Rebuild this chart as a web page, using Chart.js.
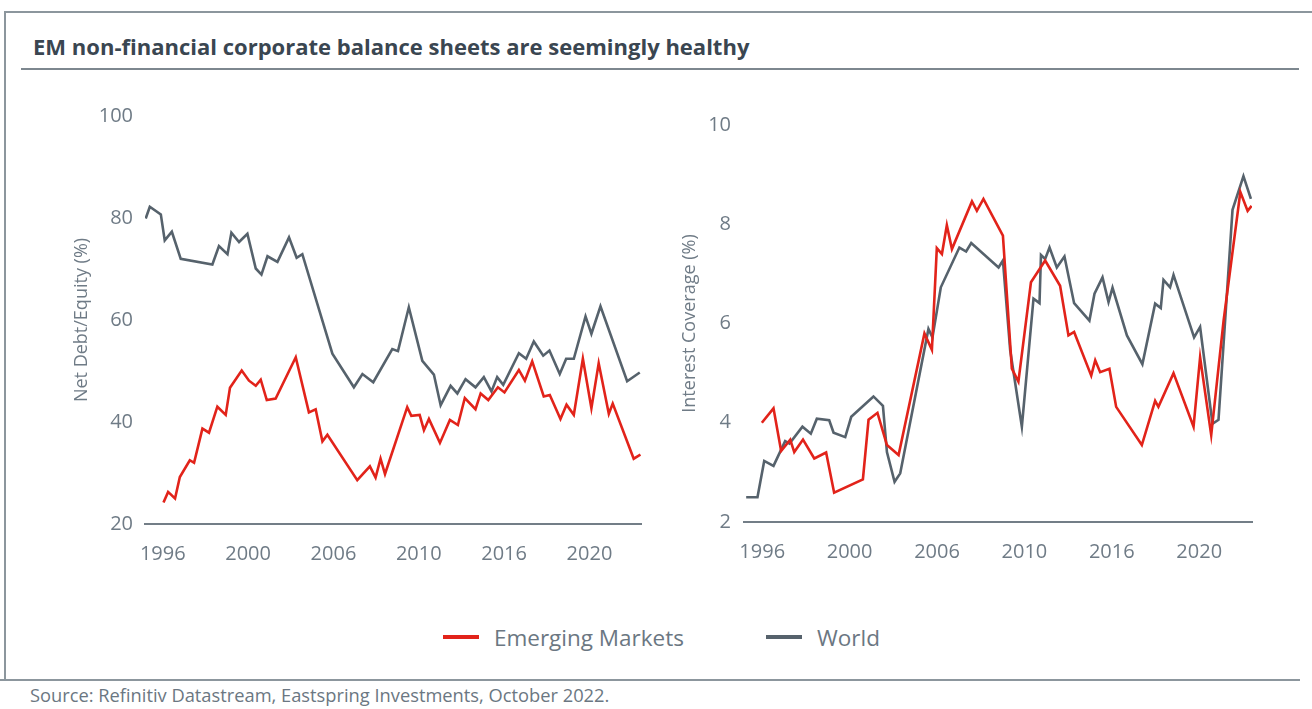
<!DOCTYPE html>
<html><head><meta charset="utf-8">
<script src="https://cdn.jsdelivr.net/npm/chart.js@4/dist/chart.umd.min.js"></script>
<style>
html,body{margin:0;padding:0;background:#fff;width:1312px;height:709px;overflow:hidden;font-family:"Open Sans",sans-serif;}
.abs{position:absolute;}
#frameTop{left:5px;top:11px;width:1307px;height:0;border-top:2px solid #8c969d;}
#frameLeft{left:4px;top:11px;width:0;height:669px;border-left:2px solid #8c969d;}
#title{left:33px;top:31px;font-size:20px;font-weight:bold;color:#3a4651;white-space:nowrap;}
#titleRule{left:21px;top:68px;width:1278px;height:0;border-top:2px solid #7d878f;}
#bottomRule{left:0;top:679px;width:1300px;height:0;border-top:2px solid #8c969d;}
#source{left:30px;top:682px;font-size:15px;color:#6b7782;white-space:nowrap;}
.lg{top:622px;height:30px;display:flex;align-items:center;font-size:20px;color:#6b7782;white-space:nowrap;}
.sw{width:36px;height:0;border-top:4px solid;margin-right:15px;}
</style></head>
<body>
<div id="frameTop" class="abs"></div>
<div id="frameLeft" class="abs"></div>
<div id="title" class="abs">EM non-financial corporate balance sheets are seemingly healthy</div>
<div id="titleRule" class="abs"></div>
<canvas id="c1" class="abs" style="left:60px;top:92px;" width="600" height="488"></canvas>
<canvas id="c2" class="abs" style="left:660px;top:100px;" width="600" height="480"></canvas>
<div id="lg1" class="abs lg" style="left:443px;"><span class="sw" style="border-color:#e2231a"></span><span id="lt1">Emerging Markets</span></div>
<div id="lg2" class="abs lg" style="left:766px;"><span class="sw" style="border-color:#56626c"></span><span id="lt2">World</span></div>
<div id="bottomRule" class="abs"></div>
<div id="source" class="abs">Source: Refinitiv Datastream, Eastspring Investments, October 2022.</div>
<script>
// ---------- data ----------
const seriesNames = ['Emerging Markets', 'World'];
const xTickLabels = ['1996', '2000', '2006', '2010', '2016', '2020'];
const xTickValues = [1996, 2000.8, 2005.6, 2010.4, 2015.2, 2020];

// Net Debt/Equity (%)
const emDebtYears = [1996.04,1996.30,1996.69,1996.96,1997.52,1997.76,1998.23,1998.60,1999.07,1999.54,1999.78,2000.44,2000.85,2001.23,2001.51,2001.85,2002.35,2003.48,2004.22,2004.60,2004.98,2005.26,2006.94,2007.65,2007.97,2008.25,2008.50,2009.75,2009.98,2010.45,2010.69,2010.97,2011.59,2012.15,2012.60,2012.99,2013.59,2013.88,2014.31,2014.85,2015.22,2016.03,2016.37,2016.78,2017.43,2017.77,2018.37,2018.71,2019.12,2019.63,2020.11,2020.52,2021.09,2021.31,2022.49,2022.87];
const emDebt = [24.2,26.3,25.0,29.2,32.5,32.0,38.7,37.9,43.0,41.4,46.7,50.1,48.1,47.1,48.3,44.3,44.6,52.7,41.9,42.5,36.2,37.5,28.6,31.3,29.1,32.8,29.8,42.9,41.2,41.4,38.4,40.6,35.9,40.4,39.4,44.7,42.5,45.6,44.3,46.8,45.8,50.2,48.1,51.9,45.0,45.3,40.6,43.4,41.4,52.4,42.7,51.5,41.6,43.6,32.8,33.6];
const worldDebtYears = [1995.04,1995.27,1995.89,1996.11,1996.51,1997.01,1998.79,1999.16,1999.64,1999.86,2000.29,2000.76,2001.23,2001.55,2001.89,2002.45,2003.10,2003.53,2003.85,2005.54,2006.75,2007.23,2007.84,2008.91,2009.23,2009.84,2010.60,2011.25,2011.63,2012.19,2012.57,2013.03,2013.59,2014.06,2014.49,2014.81,2015.15,2016.03,2016.44,2016.87,2017.40,2017.75,2018.33,2018.69,2019.12,2019.78,2020.11,2020.62,2022.12,2022.83];
const worldDebt = [79.9,82.2,80.7,75.6,77.3,72.0,70.9,74.5,72.9,77.1,75.3,76.9,70.1,68.9,72.5,71.4,76.2,72.2,72.9,53.4,46.8,49.4,47.8,54.3,53.9,62.5,52.0,49.3,43.3,47.1,45.6,48.4,46.8,48.8,46.0,48.8,47.3,53.5,52.4,55.8,53.0,54.0,49.4,52.4,52.4,60.7,57.3,62.7,48.0,49.7];

// Interest Coverage (%)
const emCovYears = [1995.98,1996.62,1997.04,1997.54,1997.76,1998.24,1998.86,1999.51,1999.95,2001.53,2001.84,2002.33,2002.85,2003.49,2004.91,2005.32,2005.59,2005.87,2006.14,2006.42,2007.52,2007.79,2008.15,2009.22,2009.71,2010.07,2010.76,2011.54,2012.36,2012.82,2013.13,2014.07,2014.29,2014.56,2015.07,2015.44,2016.85,2017.58,2017.76,2018.59,2019.69,2020.05,2020.66,2021.34,2022.26,2022.66,2022.88];
const emCov = [4.00,4.29,3.43,3.66,3.41,3.66,3.28,3.40,2.59,2.86,4.06,4.20,3.55,3.35,5.80,5.47,7.52,7.40,7.98,7.50,8.46,8.27,8.51,7.77,5.09,4.83,6.83,7.27,6.76,5.76,5.83,4.95,5.26,5.02,5.09,4.32,3.55,4.44,4.32,5.00,3.92,5.32,3.75,6.06,8.65,8.27,8.37];
const worldCovYears = [1995.12,1995.74,1996.11,1996.62,1997.26,1997.50,1998.21,1998.67,1999.00,1999.68,1999.92,2000.56,2000.89,2002.11,2002.63,2002.85,2003.27,2003.58,2005.13,2005.35,2005.81,2006.83,2007.20,2007.48,2008.98,2009.22,2009.62,2010.26,2010.90,2011.23,2011.31,2011.54,2011.78,2012.18,2012.60,2013.13,2013.97,2014.25,2014.69,2015.02,2015.24,2016.03,2016.88,2017.58,2017.89,2018.04,2018.40,2018.59,2019.72,2020.05,2020.73,2021.06,2021.83,2022.43,2022.84];
const worldCov = [2.50,2.50,3.23,3.13,3.63,3.58,3.92,3.78,4.08,4.05,3.80,3.71,4.12,4.53,4.34,3.41,2.81,2.98,5.89,5.72,6.73,7.53,7.45,7.62,7.13,7.27,5.46,3.92,6.50,6.41,7.38,7.30,7.53,7.13,7.35,6.41,6.06,6.60,6.93,6.43,6.72,5.76,5.18,6.40,6.31,6.88,6.73,6.98,5.72,5.93,3.98,4.06,8.29,8.97,8.51];

// ---------- chart ----------
const RED = '#e2231a', GREY = '#56626c', TXT = '#6f7b86', FONT = '"Open Sans", sans-serif';
const pts = (xs, ys) => xs.map((x, i) => ({x: x, y: ys[i]}));

function makeChart(id, cfg) {
  return new Chart(document.getElementById(id), {
    type: 'line',
    data: {datasets: [
      {label: seriesNames[0], data: pts(cfg.emX, cfg.emY), borderColor: RED, borderWidth: 2.6, pointRadius: 0, tension: 0, fill: false},
      {label: seriesNames[1], data: pts(cfg.wX, cfg.wY), borderColor: GREY, borderWidth: 2.6, pointRadius: 0, tension: 0, fill: false}
    ]},
    options: {
      responsive: false, animation: false, devicePixelRatio: 1,
      layout: {padding: {top: cfg.padTop, right: cfg.padRight, left: 0, bottom: 0}},
      plugins: {legend: {display: false}, tooltip: {enabled: false}},
      scales: {
        x: {type: 'linear', min: 1995.0, max: 2022.9,
          grid: {display: false, drawTicks: false},
          border: {display: true, color: '#737e87', width: 2},
          afterBuildTicks: s => { s.ticks = xTickValues.map(v => ({value: v})); },
          afterFit: s => { s.height = cfg.xH; },
          ticks: {color: TXT, font: {family: FONT, size: 20}, padding: 18, maxRotation: 0, autoSkip: false,
            callback: (v, i) => xTickLabels[i]}
        },
        y: {min: cfg.yMin, max: cfg.yMax,
          grid: {display: false, drawTicks: false},
          border: {display: false},
          afterFit: s => { s.width = cfg.yW; },
          ticks: {stepSize: cfg.step, color: TXT, font: {family: FONT, size: 20}, padding: cfg.tickPad},
          title: {display: true, text: cfg.yTitle, color: TXT, font: {family: FONT, size: 18}, padding: {top: cfg.titlePad, bottom: 0}}
        }
      }
    }
  });
}

makeChart('c1', {emX: emDebtYears, emY: emDebt, wX: worldDebtYears, wY: worldDebt,
  yMin: 20, yMax: 100, step: 20, yTitle: 'Net Debt/Equity (%)',
  padTop: 24, padRight: 19, yW: 85, xH: 56, tickPad: 12, titlePad: 11});
makeChart('c2', {emX: emCovYears, emY: emCov, wX: worldCovYears, wY: worldCov,
  yMin: 2, yMax: 10, step: 2, yTitle: 'Interest Coverage (%)',
  padTop: 24, padRight: 8, yW: 84, xH: 58, tickPad: 13, titlePad: 19});

// fit a few texts to their measured widths in the reference
function fit(id, w) {
  const el = document.getElementById(id);
  const fs = parseFloat(getComputedStyle(el).fontSize);
  el.style.fontSize = (fs * w / el.getBoundingClientRect().width).toFixed(2) + 'px';
}
fit('title', 717); fit('source', 580); fit('lt1', 190); fit('lt2', 63);
</script>
</body></html>
